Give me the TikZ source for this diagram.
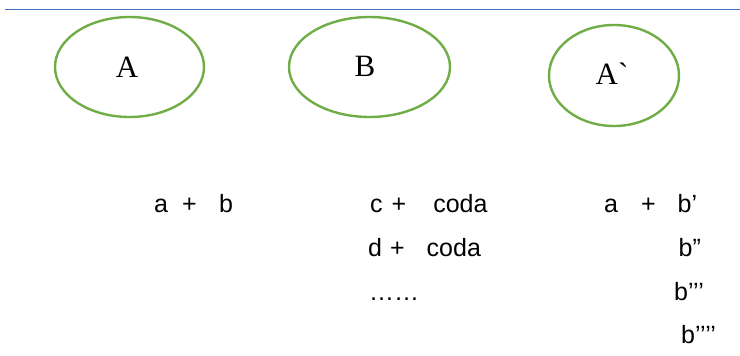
\documentclass[tikz,border=0pt]{standalone}
\usepackage{fontspec}
\setmainfont{Liberation Serif}[Ligatures=TeXOff]
\newfontfamily\arialfont{Liberation Sans}
\usetikzlibrary{shapes.geometric}
\definecolor{topblue}{HTML}{4472C4}
\definecolor{ovalgreen}{HTML}{70AD47}
\begin{document}
\begin{tikzpicture}[x=1pt,y=-1pt,
  oval/.style={ellipse,draw=ovalgreen,line width=2.4pt,inner sep=0pt},
  biglabel/.style={inner sep=0pt,font=\fontsize{31}{31}\selectfont},
  row/.style={inner sep=0pt,anchor=base west,font=\arialfont\fontsize{25}{25}\selectfont}]
\useasboundingbox (0,0) rectangle (740,356);
\coordinate (ls) at (5,9.5);
\coordinate (le) at (740,9.5);
\draw[topblue,line width=1.8pt] (ls) -- (le);
\node[oval,minimum width=149pt,minimum height=100pt] (ovA) at (129.5,67) {};
\node[oval,minimum width=161pt,minimum height=100pt] (ovB) at (369.5,67) {};
\node[oval,minimum width=130pt,minimum height=101pt] (ovC) at (614,75.5) {};
\node[biglabel] (tA) at (127,67) {A};
\node[biglabel] (tB) at (365,66) {B};
\node[biglabel] (tC) at (612,73.5) {A`};
\node[row] (r1) at (154,212) {a\hspace{14pt}+\hspace{22.5pt}b};
\node[row] (r2) at (370,212) {c\hspace{9pt}+\hspace{27pt}coda};
\node[row] (r3) at (368,256) {d\hspace{8pt}+\hspace{22pt}coda};
\node[row] (r4) at (369,300) {……};
\node[row] (r5) at (604,212) {a\hspace{23pt}+\hspace{22pt}b’};
\node[row] (r6) at (678.5,256) {b”};
\node[row] (r7) at (674,300) {b’’’};
\node[row] (r8) at (681,343) {b’’’’};
\end{tikzpicture}
\end{document}
